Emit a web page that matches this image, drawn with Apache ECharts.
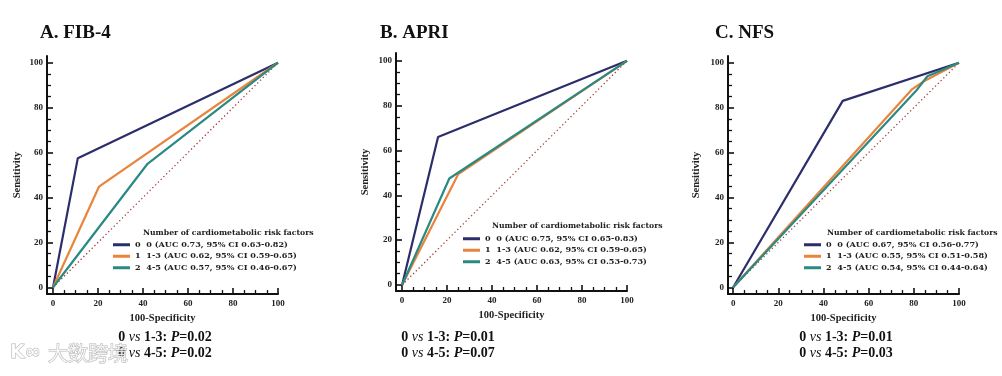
<!DOCTYPE html>
<html>
<head>
<meta charset="utf-8">
<script src="https://cdn.jsdelivr.net/npm/echarts@6/dist/echarts.min.js"></script>
<style>
html, body { margin: 0; padding: 0; background: #fff; }
#main { width: 1002px; height: 376px; }
</style>
</head>
<body>
<div id="main"></div>
<script>
// tick values shared by all panels
var tickValues = [0, 20, 40, 60, 80, 100];
var minorValues = [5, 10, 15, 25, 30, 35, 45, 50, 55, 65, 70, 75, 85, 90, 95];

// ROC points [100-specificity, sensitivity]
var fib0 = [[0, 0], [11, 57.5], [100, 100]];
var fib13 = [[0, 0], [20.4, 44.8], [100, 100]];
var fib45 = [[0, 0], [42, 55], [100, 100]];
var apri0 = [[0, 0], [16, 66], [100, 100]];
var apri13 = [[0, 0], [25, 49.5], [100, 100]];
var apri45 = [[0, 0], [21, 47.5], [100, 100]];
var nfs0 = [[0, 0], [48.5, 83], [100, 100]];
var nfs13 = [[0, 0], [79, 88], [84, 91.5], [100, 100]];
var nfs45 = [[0, 0], [81, 87.5], [86, 94], [100, 100]];
var chance = [[0, 0], [100, 100]];

var groups = ['0', '1', '2'];
var fibLabels = ['0 (AUC 0.73, 95% CI 0.63-0.82)', '1-3 (AUC 0.62, 95% CI 0.59-0.65)', '4-5 (AUC 0.57, 95% CI 0.46-0.67)'];
var apriLabels = ['0 (AUC 0.75, 95% CI 0.65-0.83)', '1-3 (AUC 0.62, 95% CI 0.59-0.65)', '4-5 (AUC 0.63, 95% CI 0.53-0.73)'];
var nfsLabels = ['0 (AUC 0.67, 95% CI 0.56-0.77)', '1-3 (AUC 0.55, 95% CI 0.51-0.58)', '4-5 (AUC 0.54, 95% CI 0.44-0.64)'];
var fibP = ['0.02', '0.02'];
var apriP = ['0.01', '0.07'];
var nfsP = ['0.01', '0.03'];

var colors = ['#2b2e6b', '#e8843c', '#2a8a83'];
var serif = 'Liberation Serif';
var legendFont = 'DejaVu Serif';

var panels = [
    {key: 'A', title: 'A. FIB-4', titleX: 40, grid: {left: 47, top: 56, width: 231, height: 238},
     xMin: -2.7, yMin: -3, yMax: 103, nameGap: 24, legendX: 113, legendY: 239, headX: 143, headY: 233, pX: 165,
     curves: [fib0, fib13, fib45], labels: fibLabels, p: fibP},
    {key: 'B', title: 'B. APRI', titleX: 380, grid: {left: 396, top: 53, width: 231, height: 238},
     xMin: -2.7, yMin: -2.7, yMax: 103.5, nameGap: 25, legendX: 463, legendY: 233, headX: 492, headY: 226, pX: 448,
     curves: [apri0, apri13, apri45], labels: apriLabels, p: apriP},
    {key: 'C', title: 'C. NFS', titleX: 715, grid: {left: 728, top: 56, width: 231, height: 238},
     xMin: -2.3, yMin: -3, yMax: 103, nameGap: 26, legendX: 804, legendY: 239, headX: 827, headY: 233, pX: 846,
     curves: [nfs0, nfs13, nfs45], labels: nfsLabels, p: nfsP}
];

var labelStyle = {fontFamily: serif, fontWeight: 'bold', fontSize: 9, color: '#222'};
var nameStyle = {fontFamily: serif, fontWeight: 'bold', fontSize: 10.5, color: '#222'};
var lineCol = {color: '#111', width: 2};

var option = {
    animation: false,
    grid: [], xAxis: [], yAxis: [], legend: [], series: [], graphic: []
};

panels.forEach(function (p, i) {
    option.grid.push(p.grid);
    var names = {};
    // main axis + a second one carrying only the minor ticks
    option.xAxis.push({
        gridIndex: i, type: 'value', min: p.xMin, max: 100,
        axisLine: {onZero: false, lineStyle: lineCol},
        axisTick: {show: true, inside: true, length: 6, customValues: tickValues, lineStyle: {color: '#111', width: 1.6}},
        axisLabel: Object.assign({customValues: tickValues, margin: 5}, labelStyle),
        splitLine: {show: false},
        name: '100-Specificity', nameLocation: 'middle', nameGap: 17, nameTextStyle: nameStyle
    });
    option.xAxis.push({
        gridIndex: i, type: 'value', min: p.xMin, max: 100, position: 'bottom',
        axisLine: {show: false, onZero: false},
        axisTick: {show: true, inside: true, length: 4, customValues: minorValues, lineStyle: {color: '#111', width: 1.3}},
        axisLabel: {show: false}, splitLine: {show: false}
    });
    option.yAxis.push({
        gridIndex: i, type: 'value', min: p.yMin, max: p.yMax,
        axisLine: {onZero: false, lineStyle: lineCol},
        axisTick: {show: true, inside: true, length: 6, customValues: tickValues, lineStyle: {color: '#111', width: 1.6}},
        axisLabel: Object.assign({customValues: tickValues, margin: 4}, labelStyle),
        splitLine: {show: false},
        name: 'Sensitivity', nameLocation: 'middle', nameGap: p.nameGap, nameRotate: 90, nameTextStyle: nameStyle
    });
    option.yAxis.push({
        gridIndex: i, type: 'value', min: p.yMin, max: p.yMax, position: 'left',
        axisLine: {show: false, onZero: false},
        axisTick: {show: true, inside: true, length: 4, customValues: minorValues, lineStyle: {color: '#111', width: 1.3}},
        axisLabel: {show: false}, splitLine: {show: false}
    });

    option.series.push({
        type: 'line', xAxisIndex: 2 * i, yAxisIndex: 2 * i, data: chance,
        symbol: 'none', silent: true,
        lineStyle: {color: '#9c4343', width: 1.3, type: [1.3, 2.6]}
    });
    p.curves.forEach(function (d, k) {
        var nm = p.key + groups[k];
        names[nm] = groups[k] + '  ' + p.labels[k];
        option.series.push({
            name: nm, type: 'line', xAxisIndex: 2 * i, yAxisIndex: 2 * i, data: d,
            symbol: 'none', color: colors[k],
            lineStyle: {color: colors[k], width: 2.2}
        });
    });
    option.legend.push({
        orient: 'vertical', left: p.legendX, top: p.legendY, padding: 0,
        data: Object.keys(names), icon: 'rect', itemWidth: 17, itemHeight: 3, itemGap: 0,
        selectedMode: false,
        formatter: function (n) { return names[n]; },
        textStyle: {fontFamily: legendFont, fontWeight: 'bold', fontSize: 8.1, color: '#222', lineHeight: 11.5}
    });

    option.graphic.push({
        type: 'text', left: p.titleX, top: 24,
        style: {text: p.title, font: 'bold 19px "Liberation Serif"', fill: '#111'}
    });
    option.graphic.push({
        type: 'text', x: p.headX, y: p.headY,
        style: {text: 'Number of cardiometabolic risk factors', font: 'bold 7.7px "DejaVu Serif"',
                fill: '#222', verticalAlign: 'middle'}
    });
    ['1-3', '4-5'].forEach(function (g, j) {
        option.graphic.push({
            type: 'text', x: p.pX, y: 337 + j * 16,
            style: {
                text: '0 {i|vs} ' + g + ': {b|P}=' + p.p[j],
                font: 'bold 14px "Liberation Serif"', fill: '#111', align: 'center', verticalAlign: 'middle',
                rich: {
                    i: {fontFamily: serif, fontStyle: 'italic', fontSize: 14, fill: '#111'},
                    b: {fontFamily: serif, fontStyle: 'italic', fontWeight: 'bold', fontSize: 14, fill: '#111'}
                }
            }
        });
    });
});

// watermark in the lower-left corner
option.graphic.push({
    type: 'text', x: 48, y: 353, z: 100,
    style: {text: '大数跨境', font: '20px "Noto Sans CJK SC"', fill: 'rgba(255,255,255,0.75)',
            stroke: 'rgba(150,150,150,0.7)', lineWidth: 1, verticalAlign: 'middle'}
});
option.graphic.push({
    type: 'text', x: 10, y: 353, z: 100,
    style: {text: 'K∞', font: 'bold 19px "DejaVu Sans"', fill: 'rgba(255,255,255,0.75)',
            stroke: 'rgba(150,150,150,0.7)', lineWidth: 1, verticalAlign: 'middle'}
});

var myChart = echarts.init(document.getElementById('main'));
myChart.setOption(option);
</script>
</body>
</html>
